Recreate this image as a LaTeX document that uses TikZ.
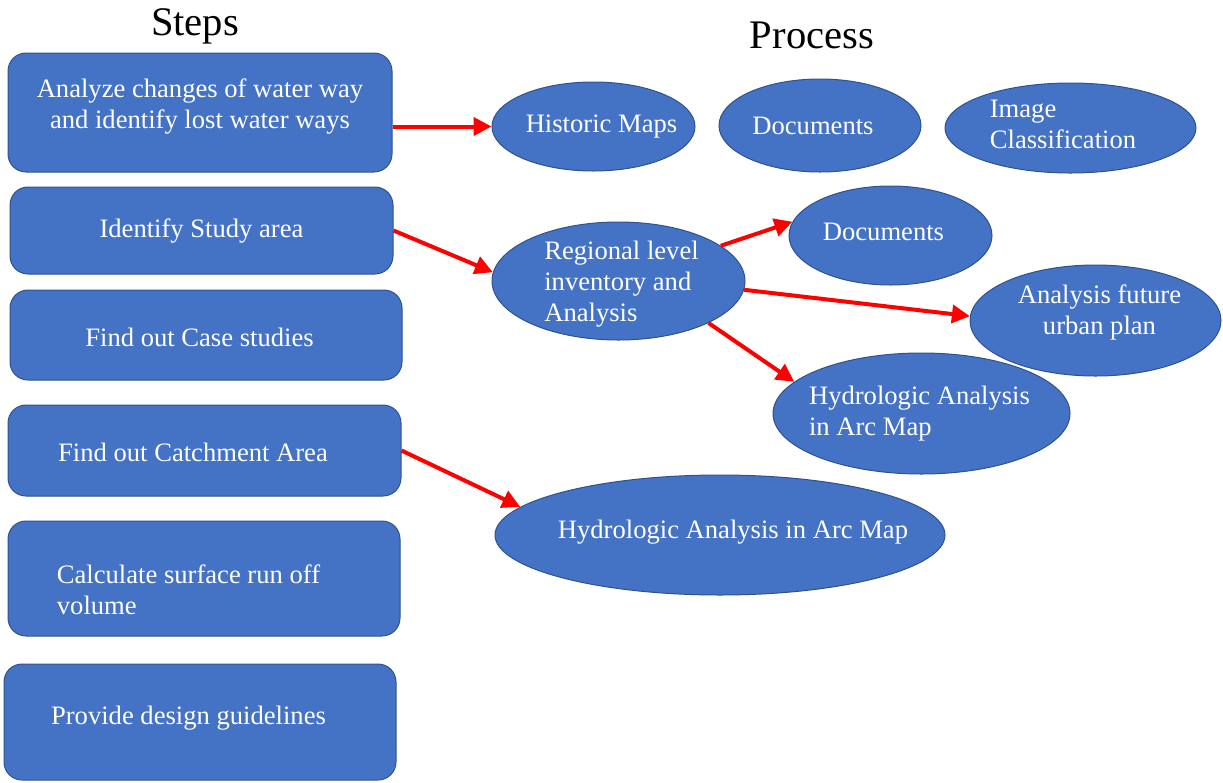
\documentclass[tikz,border=0pt]{standalone}
\usepackage{fontspec}
\setmainfont{Liberation Serif}
\usetikzlibrary{shapes.geometric, arrows.meta, positioning}
\definecolor{boxblue}{HTML}{4472C4}
\definecolor{edgeblue}{HTML}{2F528F}
\definecolor{arrowred}{HTML}{FF0000}

\tikzset{
    stepbox/.style={draw=edgeblue, line width=0.5pt, fill=boxblue, rounded corners=9pt, inner sep=0pt},
    procnode/.style={ellipse, draw=edgeblue, line width=0.5pt, fill=boxblue, inner sep=0pt},
    boxtext/.style={text=white, font=\fontsize{13.3}{15.5}\selectfont, inner sep=0pt},
    heading/.style={font=\fontsize{20.3}{24}\selectfont},
    flow/.style={-{Triangle[length=9pt, width=9pt]}, arrowred, line width=2pt}
}

\begin{document}
\begin{tikzpicture}[x=0.5pt, y=-0.5pt]
    \useasboundingbox (0,0) rectangle (1223,783);

    % Column titles
    \node[heading] (steps) at (195,26) {Steps};
    \node[heading] (process) at (812,35) {Process};

    % Steps
    \node[stepbox, minimum width=192pt, minimum height=59.5pt,
          label={[boxtext, align=center, yshift=3pt]center:{Analyze changes of water way\\and identify lost water ways}}]
          (analyze) at (200,112.5) {};
    \node[stepbox, minimum width=191.5pt, minimum height=43.5pt,
          label={[boxtext]center:{Identify Study area}}]
          (area) at (201.5,230.5) {};
    \node[stepbox, minimum width=196pt, minimum height=45pt,
          label={[boxtext, xshift=-3.25pt, yshift=-1pt]center:{Find out Case studies}}]
          (cases) at (206,335) {};
    \node[stepbox, minimum width=196.5pt, minimum height=45.5pt,
          label={[boxtext, xshift=-5.75pt, yshift=-1pt]center:{Find out Catchment Area}}]
          (catch) at (204.5,450.5) {};
    \node[stepbox, minimum width=196pt, minimum height=57.5pt,
          label={[boxtext, align=left, xshift=-7.75pt, yshift=-5.75pt]center:{Calculate surface run off\\volume}}]
          (runoff) at (204,578.5) {};
    \node[stepbox, minimum width=196pt, minimum height=58pt,
          label={[boxtext, xshift=-5.75pt, yshift=2pt]center:{Provide design guidelines}}]
          (guide) at (200,722) {};

    % Process
    \node[procnode, minimum width=101.5pt, minimum height=44.5pt,
          label={[boxtext, xshift=4pt]center:{Historic Maps}}]
          (hist) at (593.5,126.5) {};
    \node[procnode, minimum width=101pt, minimum height=46.5pt,
          label={[boxtext, xshift=-3.5pt]center:{Documents}}]
          (docA) at (820,125.5) {};
    \node[procnode, minimum width=125.5pt, minimum height=45pt,
          label={[boxtext, align=left, xshift=-3.75pt, yshift=2pt]center:{Image\\Classification}}]
          (imgcls) at (1070.5,128) {};
    \node[procnode, minimum width=126.5pt, minimum height=59pt,
          label={[boxtext, align=left, xshift=1.5pt, yshift=-1.5pt]center:{Regional level\\inventory and\\Analysis}}]
          (region) at (618.5,281) {};
    \node[procnode, minimum width=101.5pt, minimum height=49.5pt,
          label={[boxtext, xshift=-3.5pt, yshift=1.75pt]center:{Documents}}]
          (docB) at (890.5,235.5) {};
    \node[procnode, minimum width=125.5pt, minimum height=55.5pt,
          label={[boxtext, align=center, xshift=2pt, yshift=4pt]center:{Analysis future\\urban plan}}]
          (future) at (1095.5,320.5) {};
    \node[procnode, minimum width=148.5pt, minimum height=60.5pt,
          label={[boxtext, align=left, xshift=-1pt]center:{Hydrologic Analysis\\in Arc Map}}]
          (hydroA) at (921.5,413.5) {};
    \node[procnode, minimum width=225pt, minimum height=60pt,
          label={[boxtext, xshift=6.5pt, yshift=1.5pt]center:{Hydrologic Analysis in Arc Map}}]
          (hydroB) at (720,535) {};

    % Arrows
    \draw[flow] (analyze.east |- hist.west) -- (hist.west);
    \draw[flow] (area.east) -- (region.176);
    \draw[flow] (region.19) -- (docB.172.6);
    \draw[flow] (region.356) -- (future.178);
    \draw[flow] (region.335) -- (hydroA.166);
    \draw[flow] (catch.east) -- (hydroB.172.6);
\end{tikzpicture}
\end{document}
